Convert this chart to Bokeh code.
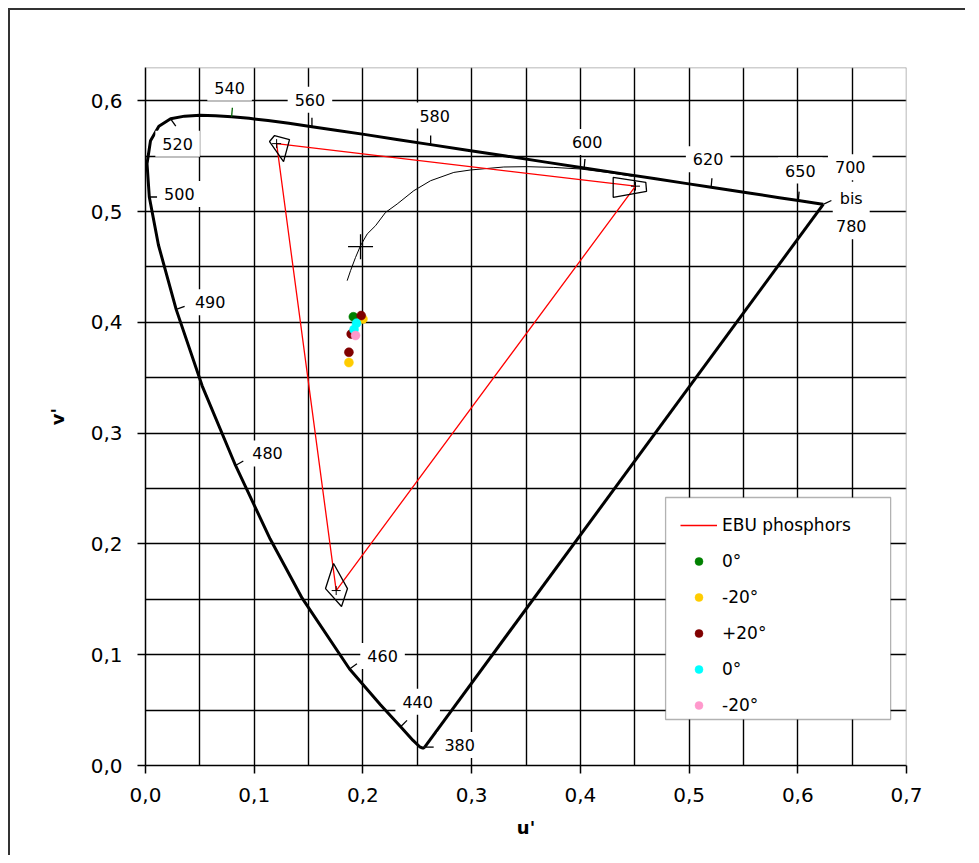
import math
from bokeh.plotting import figure
from bokeh.models import (Label, Legend, LegendItem, BoxAnnotation, Span,
                          FixedTicker, Range1d, ColumnDataSource)
from bokeh.embed import file_html
from bokeh.resources import INLINE

# ---------------- data ----------------
# spectral locus (CIE 1976 u'v')
wl = [380, 390, 400, 410, 420, 430, 440, 450, 460, 470, 475, 480, 485, 490, 495,
      500, 505, 510, 515, 520, 525, 530, 535, 540, 545, 550, 555, 560, 565, 570,
      575, 580, 585, 590, 595, 600, 605, 610, 615, 620, 625, 630, 640, 650, 660,
      680, 700]
locus_u = [0.2568, 0.2564, 0.2557, 0.2545, 0.2522, 0.2461, 0.2347, 0.2161, 0.1877,
           0.1441, 0.1147, 0.0828, 0.0521, 0.0282, 0.0119, 0.0035, 0.0014, 0.0046,
           0.0123, 0.0231, 0.0360, 0.0501, 0.0643, 0.0792, 0.0953, 0.1127, 0.1319,
           0.1531, 0.1766, 0.2026, 0.2312, 0.2623, 0.2960, 0.3315, 0.3681, 0.4035,
           0.4379, 0.4692, 0.4968, 0.5203, 0.5399, 0.5565, 0.5830, 0.6005, 0.6109,
           0.6199, 0.6234]
locus_v = [0.0166, 0.0163, 0.0159, 0.0159, 0.0169, 0.0226, 0.0350, 0.0549, 0.0871,
           0.1510, 0.2044, 0.2708, 0.3427, 0.4117, 0.4698, 0.5131, 0.5432, 0.5638,
           0.5770, 0.5837, 0.5861, 0.5868, 0.5865, 0.5856, 0.5841, 0.5821, 0.5796,
           0.5766, 0.5732, 0.5694, 0.5651, 0.5604, 0.5554, 0.5501, 0.5446, 0.5393,
           0.5342, 0.5296, 0.5254, 0.5219, 0.5190, 0.5165, 0.5125, 0.5099, 0.5084,
           0.5070, 0.5065]

# labelled wavelengths
label_wl = [380, 440, 460, 480, 490, 500, 520, 540, 560, 580, 600, 620, 650, 700]
label_txt = ["380", "440", "460", "480", "490", "500", "520", "540", "560", "580",
             "600", "620", "650", "700"]
extra_txt = ["bis", "780"]          # anchored at the 700 nm end point

# Planckian (black body) locus
planck_u = [0.1855, 0.1886, 0.1932, 0.1978, 0.2039, 0.2116, 0.2208, 0.2315, 0.2468,
            0.2622, 0.2836, 0.2990, 0.3296, 0.3511, 0.3756, 0.4002, 0.4247, 0.4480]
planck_v = [0.4376, 0.4466, 0.4586, 0.4692, 0.4797, 0.4872, 0.4992, 0.5068, 0.5188,
            0.5278, 0.5353, 0.5375, 0.5402, 0.5405, 0.5398, 0.5384, 0.5353, 0.5318]

# D65 white point
d65_u = [0.1978]
d65_v = [0.4683]

# EBU phosphors (R, G, B)
ebu_u = [0.4507, 0.1206, 0.1754]
ebu_v = [0.5229, 0.5613, 0.1579]

# tolerance areas around the phosphors
tol_r_u = [0.4302, 0.4602, 0.4609, 0.4302]
tol_r_v = [0.5308, 0.5263, 0.5182, 0.5128]
tol_g_u = [0.1141, 0.1187, 0.1325, 0.1270]
tol_g_v = [0.5632, 0.5686, 0.5650, 0.5451]
tol_b_u = [0.1730, 0.1858, 0.1803, 0.1656]
tol_b_v = [0.1823, 0.1597, 0.1435, 0.1597]

# measurements
green_u = [0.1912];                  green_v = [0.4050]
gold_u = [0.2000, 0.1871];           gold_v = [0.4030, 0.3637]
maroon_u = [0.1984, 0.1892, 0.1871]; maroon_v = [0.4061, 0.3895, 0.3730]
cyan_u = [0.1941, 0.1918];           cyan_v = [0.3992, 0.3935]
pink_u = [0.1932];                   pink_v = [0.3881]

series_names = ["EBU phosphors", "0°", "-20°", "+20°", "0°", "-20°"]

# axes
u_ticks = [0.0, 0.1, 0.2, 0.3, 0.4, 0.5, 0.6, 0.7]
u_minor = [0.05, 0.15, 0.25, 0.35, 0.45, 0.55, 0.65]
u_tick_labels = ["0,0", "0,1", "0,2", "0,3", "0,4", "0,5", "0,6", "0,7"]
v_ticks = [0.0, 0.1, 0.2, 0.3, 0.4, 0.5, 0.6]
v_minor = [0.05, 0.15, 0.25, 0.35, 0.45, 0.55]
v_tick_labels = ["0,0", "0,1", "0,2", "0,3", "0,4", "0,5", "0,6"]

# ---------------- layout / style ----------------
# label offsets (screen px, right / up) from the locus point
label_off = {380: (35, 2), 440: (17, 25), 460: (33, 13), 480: (32, 12), 490: (34, 7),
             500: (30, 3), 520: (7, -25), 540: (-2, 29), 560: (-2, 27), 580: (4, 29),
             600: (3, 26), 620: (-3, 28), 650: (2, 30), 700: (27, 37)}
extra_off = [(28, 6), (28, -22)]
tick_angle = {380: 0, 440: 45, 460: 35, 480: 30, 490: 20, 500: 0, 520: -55, 540: 85,
              560: 90, 580: 90, 600: 85, 620: 85, 650: 85, 700: 25}
FONT = "DejaVu Sans"

p = figure(frame_width=761, frame_height=698,
           x_range=Range1d(0, 0.7), y_range=Range1d(0, 0.63),
           output_backend="svg", toolbar_location=None,
           min_border_left=135, min_border_right=59,
           min_border_top=57, min_border_bottom=90)
p.styles = {"margin-left": "8px", "margin-top": "8px",
            "border-left": "2px solid #333333", "border-top": "2px solid #333333"}
p.background_fill_color = "white"
p.border_fill_color = "white"
p.outline_line_color = None

p.xaxis.ticker = FixedTicker(ticks=u_ticks, minor_ticks=u_minor)
p.yaxis.ticker = FixedTicker(ticks=v_ticks, minor_ticks=v_minor)
p.xaxis.major_label_overrides = dict(zip(u_ticks, u_tick_labels))
p.yaxis.major_label_overrides = dict(zip(v_ticks, v_tick_labels))
p.xaxis.axis_label = "u'"
p.yaxis.axis_label = "v'"
for ax in (p.xaxis[0], p.yaxis[0]):
    ax.axis_line_color = "black"
    ax.axis_line_width = 1.5
    ax.major_tick_line_color = "black"
    ax.major_tick_line_width = 1.5
    ax.major_tick_out = 8
    ax.major_tick_in = 0
    ax.minor_tick_out = 0
    ax.minor_tick_in = 0
    ax.major_label_text_font = FONT
    ax.major_label_text_font_size = "20px"
    ax.major_label_text_color = "black"
    ax.axis_label_text_font = FONT
    ax.axis_label_text_font_size = "18px"
    ax.axis_label_text_font_style = "bold"
    ax.axis_label_text_color = "black"
p.xaxis.major_label_standoff = 14
p.yaxis.major_label_standoff = 15
p.xaxis.axis_label_standoff = 12
p.yaxis.axis_label_standoff = 20

for g in (p.xgrid[0], p.ygrid[0]):
    g.grid_line_color = "black"
    g.grid_line_width = 1.4
    g.minor_grid_line_color = "black"
    g.minor_grid_line_width = 1.4

# frame top / right (grey)
p.add_layout(Span(location=0.63, dimension="width", line_color="#a0a0a0", line_width=1.5))
p.add_layout(Span(location=0.7, dimension="height", line_color="#a0a0a0", line_width=1.5))

# spectral locus + purple line
p.line(locus_u, locus_v, line_color="black", line_width=3, line_join="round")
p.line([locus_u[-1], locus_u[0]], [locus_v[-1], locus_v[0]],
       line_color="black", line_width=3)

# wavelength ticks
wl_idx = {w: i for i, w in enumerate(wl)}
tsrc = ColumnDataSource(dict(
    x=[locus_u[wl_idx[w]] for w in label_wl],
    y=[locus_v[wl_idx[w]] for w in label_wl],
    a=[math.radians(tick_angle[w]) for w in label_wl],
    c=["#006400" if w == 540 else "black" for w in label_wl]))
p.ray(x="x", y="y", angle="a", length=9, length_units="screen",
      line_color="c", line_width=1.3, source=tsrc)

# Planckian locus and D65
p.line(planck_u, planck_v, line_color="black", line_width=1)
p.scatter(d65_u, d65_v, marker="cross", size=25, line_color="black", line_width=1.3)

# EBU triangle
tri = p.line(ebu_u + [ebu_u[0]], ebu_v + [ebu_v[0]], line_color="red", line_width=1.3)
for tu, tv in ((tol_r_u, tol_r_v), (tol_g_u, tol_g_v), (tol_b_u, tol_b_v)):
    p.patch(tu, tv, fill_alpha=0, line_color="black", line_width=1.3)
p.scatter(ebu_u, ebu_v, marker="cross", size=9, line_color="black", line_width=1)

# measurements
rs = []
for uu, vv, col in ((green_u, green_v, "#008000"), (gold_u, gold_v, "#FFCC00"),
                    (maroon_u, maroon_v, "#800000"), (cyan_u, cyan_v, "#00FFFF"),
                    (pink_u, pink_v, "#FF99CC")):
    rs.append(p.scatter(uu, vv, marker="circle", size=9, fill_color=col,
                        line_color=col, line_width=0.5))

# wavelength labels with white boxes
def add_label(x, y, dx, dy, txt):
    p.add_layout(Label(x=x, y=y, x_offset=dx, y_offset=dy, text=txt,
                       text_font=FONT, text_font_size="16px", text_color="black",
                       text_align="center", text_baseline="middle",
                       background_fill_color="white", padding=7))

for w, t in zip(label_wl, label_txt):
    dx, dy = label_off[w]
    add_label(locus_u[wl_idx[w]], locus_v[wl_idx[w]], dx, dy, t)
for t, (dx, dy) in zip(extra_txt, extra_off):
    add_label(locus_u[-1], locus_v[-1], dx, dy, t)

# legend
p.add_layout(BoxAnnotation(left=0.4784, right=0.6854, bottom=0.0415, top=0.2419,
                           fill_color="white", fill_alpha=1,
                           line_color="black", line_width=1.3))
items = [LegendItem(label=n, renderers=[r]) for n, r in zip(series_names, [tri] + rs)]
leg = Legend(items=items, location=(535, 50), padding=9, margin=0, spacing=16,
             glyph_width=37, glyph_height=20, label_height=20, label_standoff=5,
             label_text_font=FONT, label_text_font_size="17px",
             label_text_color="black", label_text_baseline="middle",
             border_line_color=None, background_fill_alpha=0)
p.add_layout(leg, "center")

open("out.html", "w").write(file_html(p, INLINE))
